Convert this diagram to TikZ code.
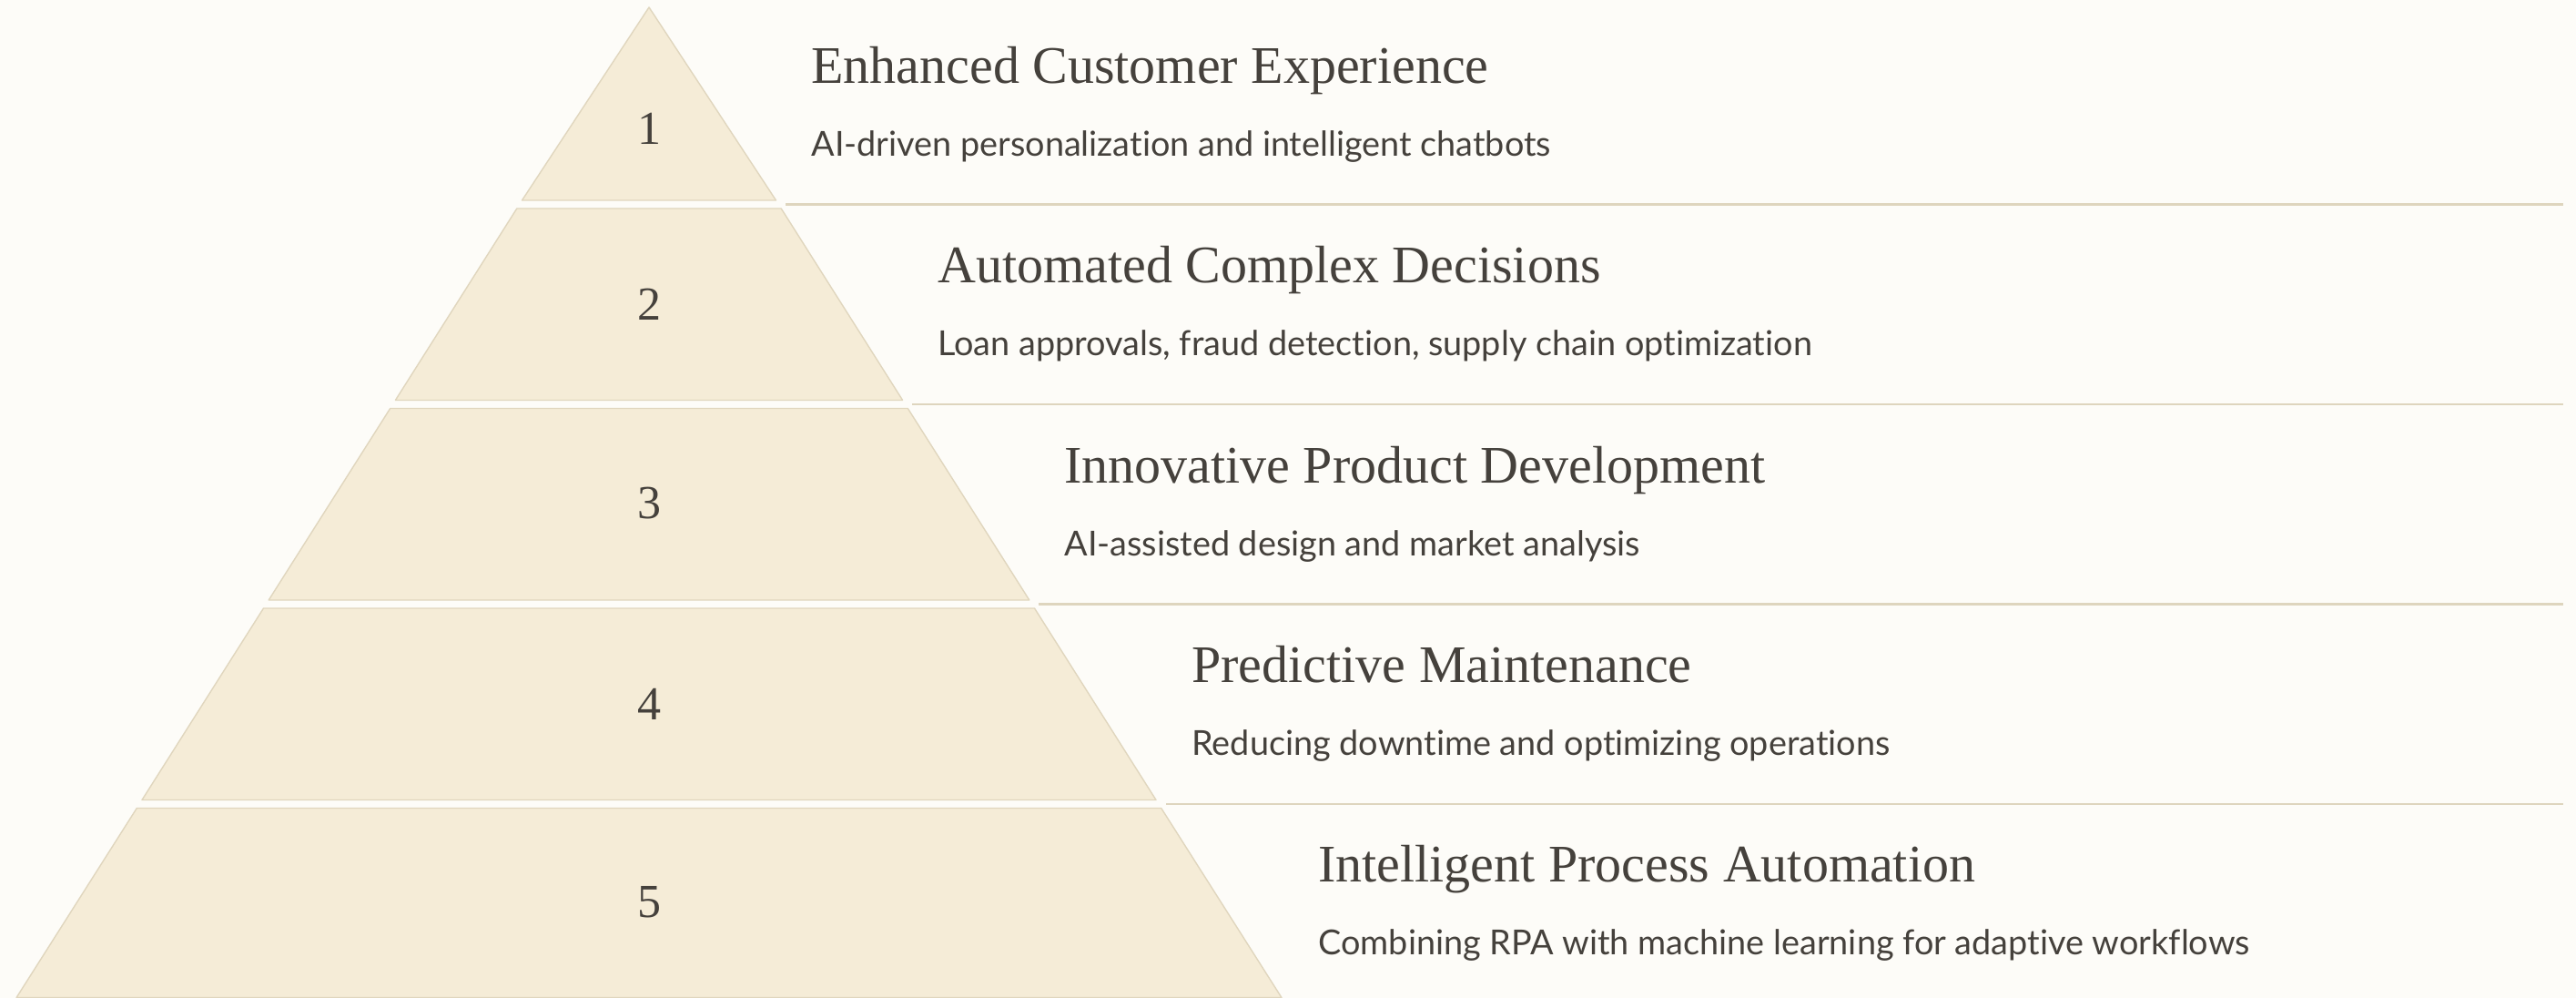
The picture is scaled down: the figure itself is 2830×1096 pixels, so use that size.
\documentclass[tikz,border=0pt]{standalone}
\usepackage{fontspec}
\setmainfont{Liberation Serif}
\newfontfamily\subfont{Lato}[Ligatures={NoCommon}]
\definecolor{bg}{HTML}{FDFCF8}
\definecolor{tierfill}{HTML}{F5ECD7}
\definecolor{tierline}{HTML}{E0D6BE}
\definecolor{sepline}{HTML}{DED5BE}
\definecolor{ink}{HTML}{45413C}
\tikzset{
  tier/.style={fill=tierfill, draw=tierline, line width=0.7pt, line join=round},
  sep/.style={draw=sepline, line width=1.3pt},
  num/.style={inner sep=0pt, anchor=center, text=ink, font=\fontsize{26}{30}\selectfont},
  ttl/.style={inner sep=0pt, anchor=base west, text=ink, font=\fontsize{29}{34}\selectfont},
  sub/.style={inner sep=0pt, anchor=base west, text=ink, font=\subfont\fontsize{18.9}{22}\selectfont}
}
\begin{document}
\begin{tikzpicture}[x=0.5pt, y=-0.5pt]
  \fill[bg] (0,0) rectangle (2830,1096);
  \useasboundingbox (0,0) rectangle (2830,1096);
  % tiers
  \path[tier] (713,8) -- (852.5,220) -- (573.5,220) -- cycle;
  \path[tier] (567.8,229) -- (858.2,229) -- (991.6,439.5) -- (434.4,439.5) -- cycle;
  \path[tier] (428.7,448.5) -- (997.3,448.5) -- (1130.8,659) -- (295.2,659) -- cycle;
  \path[tier] (289.5,668) -- (1136.5,668) -- (1270,878.5) -- (156,878.5) -- cycle;
  \path[tier] (150.3,887.5) -- (1275.7,887.5) -- (1407.9,1095.5) -- (18.1,1095.5) -- cycle;
  % separators
  \coordinate (a1) at (863,224.5);  \coordinate (b1) at (2816,224.5);
  \coordinate (a2) at (1002,444);   \coordinate (b2) at (2816,444);
  \coordinate (a3) at (1141,663.5); \coordinate (b3) at (2816,663.5);
  \coordinate (a4) at (1281,883);   \coordinate (b4) at (2816,883);
  \draw[sep] (a1) -- (b1);
  \draw[sep] (a2) -- (b2);
  \draw[sep] (a3) -- (b3);
  \draw[sep] (a4) -- (b4);
  % numbers
  \node[num] (n1) at (713,141) {1};
  \node[num] (n2) at (713,334.5) {2};
  \node[num] (n3) at (713,553) {3};
  \node[num] (n4) at (713,773) {4};
  \node[num] (n5) at (713,991) {5};
  % titles
  \node[ttl] (h1) at (891,92) {Enhanced Customer Experience};
  \node[ttl] (h2) at (1030,311) {Automated Complex Decisions};
  \node[ttl] (h3) at (1169,530) {Innovative Product Development};
  \node[ttl] (h4) at (1309,749) {Predictive Maintenance};
  \node[ttl] (h5) at (1448,968) {Intelligent Process Automation};
  % subtitles
  \node[sub] (s1) at (891,172) {AI-driven personalization and intelligent chatbots};
  \node[sub] (s2) at (1030,391) {Loan approvals, fraud detection, supply chain optimization};
  \node[sub] (s3) at (1169,610) {AI-assisted design and market analysis};
  \node[sub] (s4) at (1309,829) {Reducing downtime and optimizing operations};
  \node[sub] (s5) at (1448,1048) {Combining RPA with machine learning for adaptive workflows};
\end{tikzpicture}
\end{document}
